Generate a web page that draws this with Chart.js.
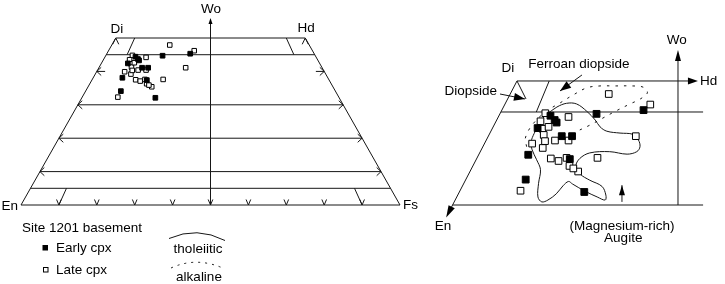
<!DOCTYPE html>
<html><head><meta charset="utf-8">
<script src="https://cdn.jsdelivr.net/npm/chart.js@4/dist/chart.umd.min.js"></script>
<style>html,body{margin:0;padding:0;background:#fff}canvas{display:block}</style>
</head><body>
<canvas id="c" width="725" height="284"></canvas>
<script>
// ---- Clinopyroxene compositions, mol% (En = 100 - Wo - Fs) ----
const earlyWo = [44.7, 45.3, 44.4, 43.7, 43.3, 42.4, 41.1, 41.1, 38.1, 34.1, 32.1, 37.4];
const earlyFs = [15.0, 22.0, 8.0, 9.0, 9.5, 7.0, 11.4, 13.0, 7.7, 9.3, 19.4, 14.5];
const lateWo = [47.9, 46.2, 41.1, 37.6, 44.2, 44.8, 43.5, 42.3, 39.9, 39.2, 40.4, 40.4, 37.5, 37.1, 37.6, 36.3, 35.4, 32.3, 35.9, 41.3, 42.6, 40.3];
const lateFs = [15.3, 22.6, 22.9, 18.7, 10.9, 7.0, 6.9, 7.8, 7.4, 9.4, 10.7, 12.8, 11.5, 12.9, 13.9, 15.0, 16.8, 9.4, 15.8, 8.5, 8.6, 9.2];

// ---- field outlines (Wo, Fs) ----
const tholWo = [44.5, 45.8, 46.4, 46.3, 45.1, 43.7, 42.6, 41.9, 41.6, 41.4, 40.5, 39.4, 38.6, 38.2, 38.6, 38.4, 37.5, 36.3, 35.0, 34.0, 33.0, 31.6, 30.8, 31.3, 32.2, 33.4, 33.8, 33.1, 31.8, 30.8, 30.5, 31.3, 33.5, 35.7, 37.3, 38.9, 40.2, 41.5, 43.4];
const tholFs = [7.2, 8.3, 9.5, 11.1, 13.3, 15.3, 16.6, 18.0, 20.2, 22.3, 23.6, 24.4, 24.3, 23.0, 20.1, 17.1, 16.0, 16.0, 17.3, 19.3, 21.7, 23.0, 23.3, 21.8, 19.5, 16.9, 16.1, 15.6, 15.2, 14.4, 13.6, 12.6, 11.6, 10.8, 9.4, 7.9, 7.1, 6.9, 6.9];
const alkWo = [39.4, 40.8, 42.9, 45.0, 46.5, 47.7, 48.9, 49.2, 49.2, 49.2, 49.0, 48.1, 47.1, 46.3, 45.1, 44.0, 42.9, 42.1];
const alkFs = [6.8, 5.9, 5.9, 6.9, 8.5, 9.8, 11.4, 13.3, 15.5, 18.3, 20.1, 21.2, 20.6, 19.4, 17.7, 16.3, 14.9, 13.7];

// ---- quadrilateral framework ----
const gridWo = [45, 30, 20, 10, 5];
const edgeTickWo = [40, 30, 20, 10];
const baseTickFs = [10, 20, 30, 40, 50, 60, 70, 80, 90];

// horizontal position in the quadrilateral = Fs + Wo/2
function q(wo, fs) { return { x: fs + wo / 2, y: wo }; }
function qr(wo, r) { return q(wo, r * (100 - wo)); } // r = Fs/(En+Fs)
function comp(woArr, fsArr) { return woArr.map((w, i) => q(w, fsArr[i])); }

const INK = '#161616';
function seg(pts, side, extra) {
  return Object.assign({
    data: pts, xAxisID: side === 'r' ? 'xr' : 'x', yAxisID: side === 'r' ? 'yr' : 'y',
    showLine: true, pointRadius: 0, borderColor: INK, borderWidth: 1, fill: false, tension: 0, order: 5
  }, extra || {});
}
function pts(side, wo, fs, filled, r) {
  return {
    data: comp(wo, fs), xAxisID: side === 'r' ? 'xr' : 'x', yAxisID: side === 'r' ? 'yr' : 'y',
    showLine: false, pointStyle: 'rect', pointRadius: r,
    backgroundColor: filled ? '#000' : '#fff', borderColor: '#000', borderWidth: 1,
    order: filled ? 0 : 1
  };
}

const datasets = [];
// left diagram
datasets.push(pts('l', earlyWo, earlyFs, true, 3.3));
datasets.push(pts('l', lateWo, lateFs, false, 3.2));
datasets.push(seg([qr(0, 0), qr(0, 1), qr(50, 1), qr(50, 0), qr(0, 0)], 'l'));
gridWo.forEach(w => datasets.push(seg([qr(w, 0), qr(w, 1)], 'l')));
datasets.push(seg([qr(40, 0), { x: qr(40, 0).x + 2.2, y: 40 }], 'l'));
datasets.push(seg([{ x: qr(40, 1).x - 2.2, y: 40 }, qr(40, 1)], 'l'));
datasets.push(seg([qr(45, 0.1), qr(50, 0.1)], 'l'));
datasets.push(seg([qr(45, 0.9), qr(50, 0.9)], 'l'));
datasets.push(seg([qr(0, 0.1), qr(5, 0.1)], 'l'));
datasets.push(seg([qr(0, 0.9), qr(5, 0.9)], 'l'));
datasets.push(seg([{ x: 50, y: 0 }, { x: 50, y: 55.5 }], 'l'));
// right diagram (enlarged)
datasets.push(pts('r', earlyWo, earlyFs, true, 4.8));
datasets.push(pts('r', lateWo, lateFs, false, 4.7));
datasets.push(seg([qr(50, 0), { x: 52.5, y: 50 }], 'r'));
datasets.push(seg([qr(45, 0), { x: 53.9, y: 45 }], 'r'));
datasets.push(seg([qr(30, 0), { x: 53.9, y: 30 }], 'r'));
datasets.push(seg([qr(50, 0), qr(28.8, 0)], 'r'));
datasets.push(seg([{ x: 50, y: 30 }, { x: 50, y: 54 }], 'r'));
datasets.push(seg([qr(45, 0.1), qr(50, 0.1)], 'r'));
datasets.push(seg([qr(50, 0), { x: 26.4, y: 47.1 }], 'r'));
const thol = comp(tholWo, tholFs); thol.push(thol[0]);
datasets.push(seg(thol, 'r', { tension: 0.35 }));
datasets.push(seg(comp(alkWo, alkFs), 'r', { tension: 0.35, borderDash: [2.5, 6] }));

// ---- labels (in diagram coordinates) ----
const leftLabels = [
  { t: 'Wo', x: 50.1, y: 58.7 }, { t: 'Di', x: 25.3, y: 52.7 }, { t: 'Hd', x: 75.2, y: 53.0 },
  { t: 'En', x: -0.8, y: -0.3, a: 'right' }, { t: 'Fs', x: 100.8, y: 0, a: 'left' }
];
const rightLabels = [
  { t: 'Wo', x: 49.8, y: 56.6 }, { t: 'Hd', x: 53.4, y: 50, a: 'left' }, { t: 'Di', x: 23.6, y: 52.1 },
  { t: 'Ferroan diopside', x: 34.6, y: 52.7 }, { t: 'Diopside', x: 21.9, y: 48.4, a: 'right' },
  { t: 'En', x: 13.5, y: 26.5 }, { t: '(Magnesium-rich)', x: 41.3, y: 26.6 }, { t: 'Augite', x: 41.5, y: 24.7 }
];
const rightArrows = [ // [fromX, fromWo, tipX, tipWo, headLen, halfWidth]
  [50, 30, 50, 55, 11, 3], [25, 50, 53.1, 50, 10, 3.5], [25, 50, 14, 28, 12, 3.5],
  [22.36, 47.9, 26.24, 47.1, 11, 4], [35.09, 50.97, 31.68, 48.39, 11, 4], [41.3, 30.5, 41.3, 33.2, 10, 3]
];
const shaftArrows = [3, 4, 5];

const FONT = '13.5px "Liberation Sans", Arial, Helvetica, sans-serif';

function chevron(ctx, x, y, ang, len, spread) {
  ctx.beginPath();
  ctx.moveTo(x + len * Math.cos(ang - spread), y + len * Math.sin(ang - spread));
  ctx.lineTo(x, y);
  ctx.lineTo(x + len * Math.cos(ang + spread), y + len * Math.sin(ang + spread));
  ctx.stroke();
}
function head(ctx, fx, fy, tx, ty, len, hw) {
  const a = Math.atan2(ty - fy, tx - fx);
  const bx = tx - len * Math.cos(a), by = ty - len * Math.sin(a);
  ctx.beginPath();
  ctx.moveTo(tx, ty);
  ctx.lineTo(bx + hw * Math.sin(a), by - hw * Math.cos(a));
  ctx.lineTo(bx - hw * Math.sin(a), by + hw * Math.cos(a));
  ctx.closePath(); ctx.fill();
}

const decor = {
  id: 'decor',
  afterDatasetsDraw(chart) {
    const ctx = chart.ctx, s = chart.scales;
    const L = p => [s.x.getPixelForValue(p.x), s.y.getPixelForValue(p.y)];
    const R = (x, y) => [s.xr.getPixelForValue(x), s.yr.getPixelForValue(y)];
    ctx.save();
    ctx.strokeStyle = INK; ctx.fillStyle = '#000'; ctx.lineWidth = 1;
    // left chevrons
    edgeTickWo.forEach(w => {
      let [x1, y1] = L(qr(w, 0)); chevron(ctx, x1, y1, 0, 6, 0.75);
      let [x2, y2] = L(qr(w, 1)); chevron(ctx, x2, y2, Math.PI, 6, 0.75);
    });
    [0, 1].forEach(r => { const [x, y] = L(qr(50, r)); chevron(ctx, x, y, Math.PI / 2, 7, 0.45); });
    baseTickFs.forEach(f => { const [x, y] = L(qr(0, f / 100)); chevron(ctx, x, y, -Math.PI / 2, 6, 0.4); });
    { const [x0, y0] = L({ x: 50, y: 0 }), [x1, y1] = L({ x: 50, y: 56 }); head(ctx, x0, y0, x1, y1, 6, 2); }
    // right arrows
    rightArrows.forEach((a, i) => {
      const [fx, fy] = R(a[0], a[1]), [tx, ty] = R(a[2], a[3]);
      if (shaftArrows.includes(i)) { ctx.beginPath(); ctx.moveTo(fx, fy); ctx.lineTo(tx, ty); ctx.stroke(); }
      head(ctx, fx, fy, tx, ty, a[4], a[5]);
    });
    // texts
    ctx.font = FONT; ctx.textBaseline = 'middle'; ctx.fillStyle = '#000';
    leftLabels.forEach(l => { const [x, y] = L(l); ctx.textAlign = l.a || 'center'; ctx.fillText(l.t, x, y); });
    rightLabels.forEach(l => { const [x, y] = R(l.x, l.y); ctx.textAlign = l.a || 'center'; ctx.fillText(l.t, x, y); });
    // legend
    ctx.textAlign = 'left';
    ctx.fillText('Site 1201 basement', 22, 228);
    ctx.fillRect(42.5, 245, 5.5, 5.5);
    ctx.fillText('Early cpx', 56, 248);
    ctx.strokeStyle = '#000';
    ctx.strokeRect(43.5, 267.5, 4.5, 4.5);
    ctx.fillText('Late cpx', 56, 270);
    ctx.textAlign = 'center';
    ctx.fillText('tholeiitic', 198, 249);
    ctx.fillText('alkaline', 199, 277);
    ctx.strokeStyle = INK;
    ctx.beginPath(); ctx.moveTo(169, 238.5); ctx.quadraticCurveTo(197, 226, 225, 240.5); ctx.stroke();
    ctx.setLineDash([2, 5]);
    ctx.beginPath(); ctx.moveTo(171, 268); ctx.quadraticCurveTo(197, 256, 225, 269); ctx.stroke();
    ctx.setLineDash([]);
    ctx.restore();
  }
};

new Chart(document.getElementById('c'), {
  type: 'scatter',
  data: { datasets },
  options: {
    responsive: false, animation: false, events: [],
    layout: { padding: 0, autoPadding: false },
    plugins: { legend: { display: false }, tooltip: { enabled: false } },
    scales: {
      x: { type: 'linear', display: false, min: -5.541, max: 185.75 },
      y: { type: 'linear', display: false, min: -23.65, max: 61.38 },
      xr: { type: 'linear', axis: 'x', display: false, min: -55.28, max: 57.30 },
      yr: { type: 'linear', axis: 'y', display: false, min: 17.26, max: 63.06 }
    }
  },
  plugins: [decor]
});
</script>
</body></html>
